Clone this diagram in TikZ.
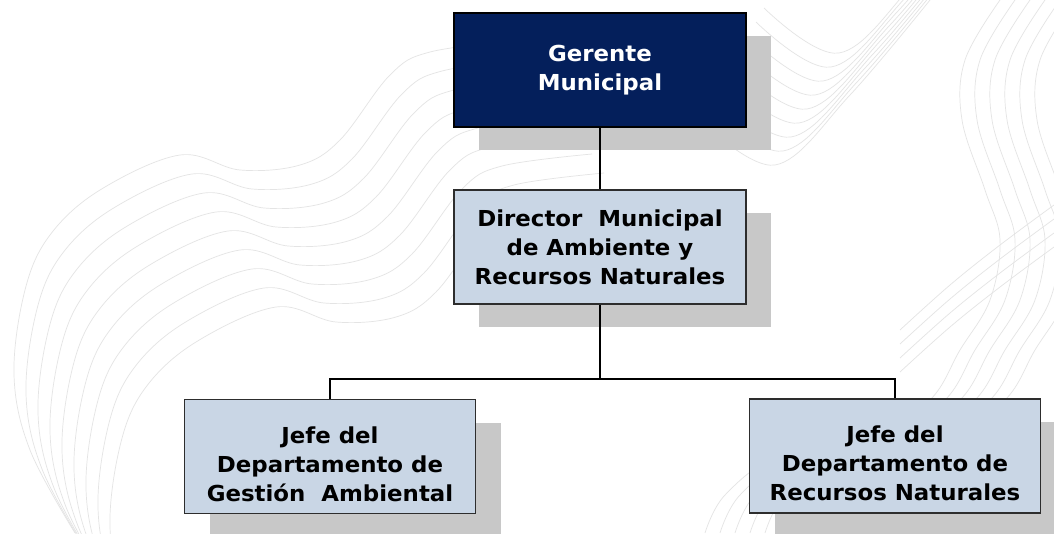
\documentclass[tikz,border=0pt]{standalone}
\usepackage{fontspec}
\setmainfont{DejaVu Sans}[FakeStretch=1.04]
\usetikzlibrary{shadows}
\definecolor{gerenteblue}{RGB}{4,31,91}
\definecolor{boxblue}{RGB}{201,214,229}
\definecolor{shadowgray}{RGB}{200,200,200}
\definecolor{boxedge}{RGB}{45,45,45}
\definecolor{contour}{RGB}{228,228,228}
\tikzset{
  cargo/.style={draw=boxedge, line width=1.6pt, fill=boxblue,
    minimum width=292pt, minimum height=114pt, inner sep=0pt, align=center,
    font=\bfseries\fontsize{22}{29}\selectfont,
    general shadow={fill=shadowgray, shadow xshift=25pt, shadow yshift=-23pt}},
  gerente/.style={cargo, fill=gerenteblue, draw=black, text=white},
  jefe/.style={cargo, minimum width=291pt},
  jefetxt/.style={align=center, font=\bfseries\fontsize{22}{29}\selectfont},
  enlace/.style={black, line width=1.5pt},
  contourline/.style={contour, line width=0.7pt}
}

\begin{document}
\begin{tikzpicture}[x=1pt,y=-1pt]
\clip (0,0) rectangle (1054,533);
\fill[white] (0,0) rectangle (1054,533);
% fondo
\foreach \i in {0,...,8}{
  \draw[contourline, shift={(12*\i,19*\i)}] plot[smooth, tension=0.6] coordinates
    {(75,533) (30,450) (14,375) (25,290) (50,235) (100,190) (180,155) (240,170)
     (300,165) (340,140) (390,75) (430,52) (520,40)};
  \draw[contourline, shift={(8*\i,-14*\i)}] plot[smooth, tension=0.6] coordinates
    {(700,120) (775,165) (850,95) (930,0)};
}
\foreach \i in {0,...,5}
  \draw[contourline, shift={(15*\i,0)}] plot[smooth, tension=0.6] coordinates
    {(1000,0) (965,60) (962,120) (985,190) (1000,240) (990,300) (960,350)
     (930,400) (870,440) (780,455) (725,495) (705,533)};
\foreach \i in {0,...,3}
  \draw[contourline, shift={(0,14*\i)}] plot[smooth, tension=0.6] coordinates
    {(900,330) (950,285) (1000,245) (1054,205)};

% cargos
\node[gerente] (gerente) at (600,70) {Gerente\\Municipal};
\node[cargo] (director) at (600,247) {Director~ Municipal\\de Ambiente y\\Recursos Naturales};
\node[jefe] (jefeGA) at (330,456.5) {};
\node[jefetxt] (jefeGAtxt) at (330,464) {Jefe del\\Departamento de\\Gestión~ Ambiental};
\node[jefe] (jefeRN) at (895,456) {};
\node[jefetxt] (jefeRNtxt) at (895,463.5) {Jefe del\\Departamento de\\Recursos Naturales};
\coordinate (split) at (600,379);

% enlaces
\draw[enlace] (gerente) -- (director);
\draw[enlace] (director) -- (split);
\draw[enlace] (jefeGA) |- (split) -| (jefeRN);
\end{tikzpicture}
\end{document}
